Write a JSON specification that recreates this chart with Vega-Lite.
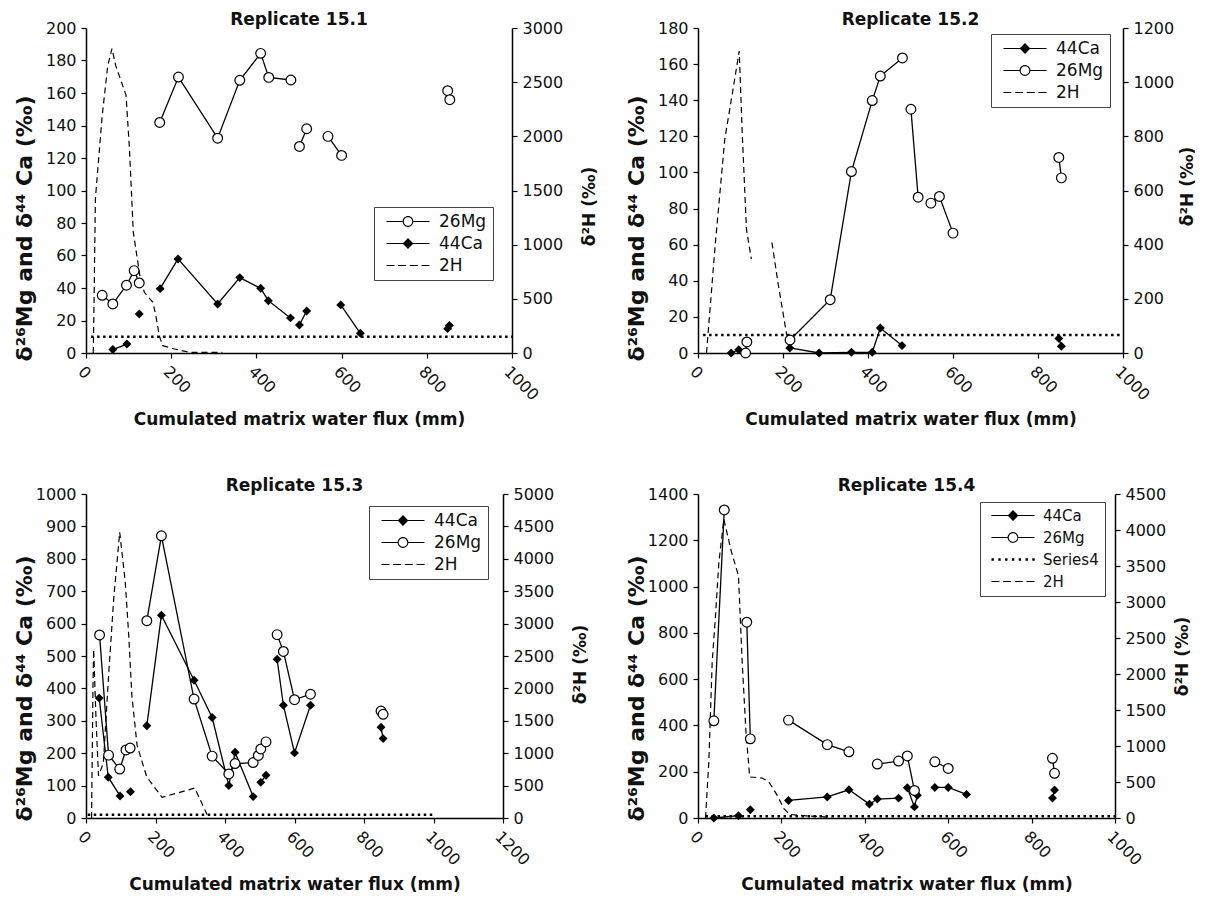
{
"$schema": "https://vega.github.io/schema/vega-lite/v6.json",
"padding": {"left": 13, "top": 11, "right": 0, "bottom": 0},
"background": "white",
"datasets": {
"p1": [
{"s":"26Mg","g":"m1","x":38,"y":35.5},{"s":"26Mg","g":"m1","x":63,"y":30.2},{"s":"26Mg","g":"m1","x":95,"y":41.7},{"s":"26Mg","g":"m1","x":113,"y":50.7},{"s":"26Mg","g":"m1","x":125,"y":43.1},
{"s":"26Mg","g":"m2","x":173,"y":141.9},{"s":"26Mg","g":"m2","x":217,"y":169.8},{"s":"26Mg","g":"m2","x":309,"y":132.2},{"s":"26Mg","g":"m2","x":361,"y":167.8},{"s":"26Mg","g":"m2","x":410,"y":184.4},{"s":"26Mg","g":"m2","x":429,"y":169.6},{"s":"26Mg","g":"m2","x":481,"y":168},
{"s":"26Mg","g":"m3","x":501,"y":127.1},{"s":"26Mg","g":"m3","x":518,"y":138},
{"s":"26Mg","g":"m4","x":568,"y":133.3},{"s":"26Mg","g":"m4","x":600,"y":121.6},
{"s":"26Mg","g":"m5","x":849,"y":161.4},{"s":"26Mg","g":"m5","x":854,"y":155.9},
{"s":"44Ca","g":"c1","x":63,"y":2.1},{"s":"44Ca","g":"c1","x":96,"y":5.5},
{"s":"44Ca","g":"c2","x":125,"y":24},
{"s":"44Ca","g":"c3","x":174,"y":39.6},{"s":"44Ca","g":"c3","x":216,"y":57.9},{"s":"44Ca","g":"c3","x":309,"y":30.2},{"s":"44Ca","g":"c3","x":361,"y":46.4},{"s":"44Ca","g":"c3","x":410,"y":39.8},{"s":"44Ca","g":"c3","x":428,"y":32.2},{"s":"44Ca","g":"c3","x":480,"y":21.6},
{"s":"44Ca","g":"c4","x":501,"y":17.2},{"s":"44Ca","g":"c4","x":518,"y":25.9},
{"s":"44Ca","g":"c5","x":598,"y":29.6},{"s":"44Ca","g":"c5","x":644,"y":12.1},
{"s":"44Ca","g":"c6","x":849,"y":15},{"s":"44Ca","g":"c6","x":853,"y":17},
{"s":"2H","g":"h1","x":17,"y":0},{"s":"2H","g":"h1","x":19,"y":500},{"s":"2H","g":"h1","x":22,"y":1420},{"s":"2H","g":"h1","x":38,"y":2190},{"s":"2H","g":"h1","x":51,"y":2650},{"s":"2H","g":"h1","x":61,"y":2810},{"s":"2H","g":"h1","x":70,"y":2650},{"s":"2H","g":"h1","x":86,"y":2470},{"s":"2H","g":"h1","x":94,"y":2380},{"s":"2H","g":"h1","x":102,"y":1885},{"s":"2H","g":"h1","x":106,"y":1546},{"s":"2H","g":"h1","x":111,"y":1115},{"s":"2H","g":"h1","x":117,"y":960},{"s":"2H","g":"h1","x":127,"y":700},{"s":"2H","g":"h1","x":137,"y":560},{"s":"2H","g":"h1","x":157,"y":468},{"s":"2H","g":"h1","x":164,"y":344},{"s":"2H","g":"h1","x":172,"y":160},{"s":"2H","g":"h1","x":180,"y":68},{"s":"2H","g":"h1","x":208,"y":37},{"s":"2H","g":"h1","x":245,"y":5},{"s":"2H","g":"h1","x":320,"y":5},
{"s":"S4","g":"s","x":12,"y":10},{"s":"S4","g":"s","x":1000,"y":10}
],
"p2": [
{"s":"26Mg","g":"m1","x":112,"y":0},{"s":"26Mg","g":"m1","x":115,"y":6.1},
{"s":"26Mg","g":"m2","x":216.5,"y":7.2},{"s":"26Mg","g":"m2","x":311,"y":29.5},{"s":"26Mg","g":"m2","x":361,"y":100.5},{"s":"26Mg","g":"m2","x":410,"y":139.8},{"s":"26Mg","g":"m2","x":429,"y":153.4},{"s":"26Mg","g":"m2","x":481,"y":163.4},
{"s":"26Mg","g":"m3","x":501,"y":135},{"s":"26Mg","g":"m3","x":518,"y":86.3},
{"s":"26Mg","g":"m4","x":548,"y":83},{"s":"26Mg","g":"m4","x":568,"y":86.7},{"s":"26Mg","g":"m4","x":600,"y":66.4},
{"s":"26Mg","g":"m5","x":849,"y":108.3},{"s":"26Mg","g":"m5","x":855,"y":97},
{"s":"44Ca","g":"c1","x":78,"y":0},{"s":"44Ca","g":"c1","x":96,"y":1.8},
{"s":"44Ca","g":"c2","x":216,"y":2.8},{"s":"44Ca","g":"c2","x":285,"y":0},{"s":"44Ca","g":"c2","x":361,"y":0.4},{"s":"44Ca","g":"c2","x":410,"y":0.4},{"s":"44Ca","g":"c2","x":429,"y":13.8},{"s":"44Ca","g":"c2","x":480,"y":4.1},
{"s":"44Ca","g":"c3","x":849,"y":8.1},{"s":"44Ca","g":"c3","x":855,"y":3.7},
{"s":"2H","g":"h1","x":20,"y":0},{"s":"2H","g":"h1","x":40,"y":390},{"s":"2H","g":"h1","x":63,"y":790},{"s":"2H","g":"h1","x":80,"y":950},{"s":"2H","g":"h1","x":97,"y":1115},{"s":"2H","g":"h1","x":104,"y":814},{"s":"2H","g":"h1","x":114,"y":457},{"s":"2H","g":"h1","x":125.5,"y":347},
{"s":"2H","g":"h2","x":174,"y":408},{"s":"2H","g":"h2","x":188,"y":261},{"s":"2H","g":"h2","x":209,"y":64},
{"s":"S4","g":"s","x":12,"y":10},{"s":"S4","g":"s","x":1000,"y":10}
],
"p3": [
{"s":"26Mg","g":"m1","x":39,"y":565},{"s":"26Mg","g":"m1","x":65,"y":194},{"s":"26Mg","g":"m1","x":97,"y":151},{"s":"26Mg","g":"m1","x":115,"y":210},{"s":"26Mg","g":"m1","x":127,"y":216},
{"s":"26Mg","g":"m2","x":175,"y":609},{"s":"26Mg","g":"m2","x":217,"y":871},{"s":"26Mg","g":"m2","x":311,"y":367},{"s":"26Mg","g":"m2","x":363,"y":191},{"s":"26Mg","g":"m2","x":411,"y":136},{"s":"26Mg","g":"m2","x":429,"y":168},{"s":"26Mg","g":"m2","x":481,"y":171},{"s":"26Mg","g":"m2","x":496,"y":193},{"s":"26Mg","g":"m2","x":503,"y":213},{"s":"26Mg","g":"m2","x":518,"y":235},
{"s":"26Mg","g":"m3","x":550,"y":566},{"s":"26Mg","g":"m3","x":568,"y":514},{"s":"26Mg","g":"m3","x":600,"y":365},{"s":"26Mg","g":"m3","x":646,"y":382},
{"s":"26Mg","g":"m4","x":849,"y":330},{"s":"26Mg","g":"m4","x":855,"y":320},
{"s":"44Ca","g":"c1","x":38,"y":370},{"s":"44Ca","g":"c1","x":64,"y":126},{"s":"44Ca","g":"c1","x":98,"y":68},
{"s":"44Ca","g":"c2","x":128,"y":81},
{"s":"44Ca","g":"c3","x":175,"y":285},{"s":"44Ca","g":"c3","x":217,"y":626},{"s":"44Ca","g":"c3","x":311,"y":425},{"s":"44Ca","g":"c3","x":363,"y":310},{"s":"44Ca","g":"c3","x":411,"y":100},{"s":"44Ca","g":"c3","x":429,"y":203},{"s":"44Ca","g":"c3","x":481,"y":66},
{"s":"44Ca","g":"c4","x":503,"y":110},{"s":"44Ca","g":"c4","x":518,"y":132},
{"s":"44Ca","g":"c5","x":550,"y":490},{"s":"44Ca","g":"c5","x":568,"y":348},{"s":"44Ca","g":"c5","x":600,"y":201},{"s":"44Ca","g":"c5","x":646,"y":348},
{"s":"44Ca","g":"c6","x":849,"y":280},{"s":"44Ca","g":"c6","x":855,"y":245},
{"s":"2H","g":"h1","x":16,"y":0},{"s":"2H","g":"h1","x":20,"y":2000},{"s":"2H","g":"h1","x":22,"y":2600},{"s":"2H","g":"h1","x":29,"y":1500},{"s":"2H","g":"h1","x":36,"y":650},{"s":"2H","g":"h1","x":50,"y":850},{"s":"2H","g":"h1","x":65,"y":2200},{"s":"2H","g":"h1","x":80,"y":3400},{"s":"2H","g":"h1","x":97,"y":4410},{"s":"2H","g":"h1","x":113,"y":3640},{"s":"2H","g":"h1","x":123,"y":2816},{"s":"2H","g":"h1","x":132,"y":1890},{"s":"2H","g":"h1","x":147,"y":1120},{"s":"2H","g":"h1","x":175,"y":632},{"s":"2H","g":"h1","x":219,"y":319},{"s":"2H","g":"h1","x":313,"y":462},{"s":"2H","g":"h1","x":353,"y":0},
{"s":"S4","g":"s","x":5,"y":10},{"s":"S4","g":"s","x":1000,"y":10}
],
"p4": [
{"s":"26Mg","g":"m1","x":38,"y":420},{"s":"26Mg","g":"m1","x":63,"y":1331},
{"s":"26Mg","g":"m2","x":117,"y":846},{"s":"26Mg","g":"m2","x":125.5,"y":342},
{"s":"26Mg","g":"m3","x":217,"y":423},{"s":"26Mg","g":"m3","x":310,"y":317},{"s":"26Mg","g":"m3","x":362,"y":286},
{"s":"26Mg","g":"m4","x":430,"y":233},{"s":"26Mg","g":"m4","x":481,"y":246},{"s":"26Mg","g":"m4","x":502,"y":268},{"s":"26Mg","g":"m4","x":519,"y":119},
{"s":"26Mg","g":"m5","x":568,"y":243},{"s":"26Mg","g":"m5","x":600,"y":214},
{"s":"26Mg","g":"m6","x":850,"y":258},{"s":"26Mg","g":"m6","x":855,"y":193},
{"s":"44Ca","g":"c1","x":38,"y":0},{"s":"44Ca","g":"c1","x":97,"y":10},
{"s":"44Ca","g":"c2","x":125.5,"y":36},
{"s":"44Ca","g":"c3","x":217,"y":76},{"s":"44Ca","g":"c3","x":310,"y":91},{"s":"44Ca","g":"c3","x":362,"y":122},{"s":"44Ca","g":"c3","x":411,"y":60},{"s":"44Ca","g":"c3","x":430,"y":82},{"s":"44Ca","g":"c3","x":481,"y":86},
{"s":"44Ca","g":"c4","x":502,"y":131},{"s":"44Ca","g":"c4","x":519,"y":48},{"s":"44Ca","g":"c4","x":526,"y":98},
{"s":"44Ca","g":"c5","x":568,"y":132},{"s":"44Ca","g":"c5","x":600,"y":132},{"s":"44Ca","g":"c5","x":644,"y":102},
{"s":"44Ca","g":"c6","x":850,"y":86},{"s":"44Ca","g":"c6","x":855,"y":121},
{"s":"2H","g":"h1","x":18,"y":0},{"s":"2H","g":"h1","x":26,"y":780},{"s":"2H","g":"h1","x":34,"y":2165},{"s":"2H","g":"h1","x":42,"y":2810},{"s":"2H","g":"h1","x":50,"y":3550},{"s":"2H","g":"h1","x":62,"y":4150},{"s":"2H","g":"h1","x":80,"y":3700},{"s":"2H","g":"h1","x":97,"y":3367},{"s":"2H","g":"h1","x":106,"y":2165},{"s":"2H","g":"h1","x":115,"y":1200},{"s":"2H","g":"h1","x":124,"y":570},{"s":"2H","g":"h1","x":154,"y":555},{"s":"2H","g":"h1","x":170,"y":500},{"s":"2H","g":"h1","x":190,"y":314},{"s":"2H","g":"h1","x":206,"y":130},{"s":"2H","g":"h1","x":220,"y":50},{"s":"2H","g":"h1","x":260,"y":30},{"s":"2H","g":"h1","x":320,"y":10},
{"s":"S4","g":"s","x":18,"y":8},{"s":"S4","g":"s","x":1000,"y":8}
]
},
"columns": 2,
"spacing": {"row": 141, "column": 186},
"bounds": "flush",
"concat": [
{
"width": 426, "height": 325,
"title": {"text": "Replicate 15.1", "offset": -9},
"data": {"name": "p1"},
"encoding": {"x": {"field": "x", "type": "quantitative", "scale": {"domain": [0, 1000], "nice": false}, "axis": {"values": [0, 200, 400, 600, 800, 1000], "format": "d", "labelAngle": 45, "labelFlush": false, "labelOverlap": false, "title": "Cumulated matrix water flux (mm)", "titleY": 66, "titleBaseline": "middle"}}},
"layer": [
{"transform": [{"filter": "datum.s==='26Mg'||datum.s==='44Ca'"}], "mark": {"type": "line", "color": "black", "strokeWidth": 1.3}, "encoding": {"y": {"field": "y", "type": "quantitative", "scale": {"domain": [0, 200], "nice": false}, "axis": {"orient": "left", "values": [0,20,40,60,80,100,120,140,160,180,200], "format": "d", "labelOverlap": false, "title": "δ²⁶Mg and δ⁴⁴ Ca (‰)", "titleFontSize": 22, "titleX": -62, "titleY": 200, "titleBaseline": "middle", "titleAlign": "center"}}, "detail": {"field": "g"}}},
{"transform": [{"filter": "datum.s==='2H'"}], "mark": {"type": "line", "color": "black", "strokeWidth": 1.2, "strokeDash": [6, 4]}, "encoding": {"y": {"field": "y", "type": "quantitative", "scale": {"domain": [0, 3000], "nice": false}, "axis": {"orient": "right", "values": [0,500,1000,1500,2000,2500,3000], "format": "d", "labelOverlap": false, "title": "δ²H (‰)", "titleFontSize": 17, "titleAngle": 270, "titleX": 77, "titleY": 178, "titleBaseline": "middle", "titleAlign": "center"}}, "detail": {"field": "g"}}},
{"transform": [{"filter": "datum.s==='S4'"}], "mark": {"type": "line", "color": "black", "strokeWidth": 2.5, "strokeDash": [2.5, 3.5]}, "encoding": {"y": {"field": "y", "type": "quantitative", "scale": {"domain": [0, 200], "nice": false}, "axis": null}}},
{"transform": [{"filter": "datum.s==='44Ca'"}], "mark": {"type": "point", "shape": "diamond", "filled": true, "color": "black", "opacity": 1, "size": 80}, "encoding": {"y": {"field": "y", "type": "quantitative", "scale": {"domain": [0, 200], "nice": false}, "axis": null}}},
{"transform": [{"filter": "datum.s==='26Mg'"}], "mark": {"type": "point", "shape": "circle", "filled": true, "fill": "white", "stroke": "black", "strokeWidth": 1.2, "opacity": 1, "size": 95}, "encoding": {"y": {"field": "y", "type": "quantitative", "scale": {"domain": [0, 200], "nice": false}, "axis": null}}},
{"transform": [{"filter": "false"}], "mark": {"type": "point", "filled": true, "color": "black", "opacity": 1, "size": 144, "strokeWidth": 0}, "encoding": {"shape": {"field": "s", "type": "nominal", "scale": {"domain": ["26Mg", "44Ca", "2H"], "range": ["M-0.333,-0.1H2.4V0.1H-0.333ZM4.1,-0.1H6.833V0.1H4.1ZM4.15,0A0.9,0.9,0,1,1,2.35,0A0.9,0.9,0,1,1,4.15,0ZM3.97,0A0.72,0.72,0,1,0,2.53,0A0.72,0.72,0,1,0,3.97,0Z", "M-0.333,-0.1H6.833V0.1H-0.333ZM3.25,-0.9L4.15,0L3.25,0.9L2.35,0Z", "M-0.333,-0.1H1V0.1H-0.333ZM1.61,-0.1H2.94V0.1H1.61ZM3.55,-0.1H4.88V0.1H3.55ZM5.5,-0.1H6.833V0.1H5.5Z"]}, "legend": {"orient": "none", "legendX": 288, "legendY": 179, "title": null, "labelFont": "DejaVu Sans", "labelFontSize": 17, "labelColor": "#111", "symbolSize": 144, "symbolFillColor": "black", "symbolStrokeWidth": 0, "symbolOpacity": 1, "labelOffset": 42, "rowPadding": 4, "padding": 6, "strokeColor": "#444", "fillColor": "white"}}}}
],
"resolve": {"scale": {"y": "independent"}}
},
{
"width": 425, "height": 325,
"title": {"text": "Replicate 15.2", "offset": -9},
"data": {"name": "p2"},
"encoding": {"x": {"field": "x", "type": "quantitative", "scale": {"domain": [0, 1000], "nice": false}, "axis": {"values": [0, 200, 400, 600, 800, 1000], "format": "d", "labelAngle": 45, "labelFlush": false, "labelOverlap": false, "title": "Cumulated matrix water flux (mm)", "titleY": 66, "titleBaseline": "middle"}}},
"layer": [
{"transform": [{"filter": "datum.s==='26Mg'||datum.s==='44Ca'"}], "mark": {"type": "line", "color": "black", "strokeWidth": 1.3}, "encoding": {"y": {"field": "y", "type": "quantitative", "scale": {"domain": [0, 180], "nice": false}, "axis": {"orient": "left", "values": [0,20,40,60,80,100,120,140,160,180], "format": "d", "labelOverlap": false, "title": "δ²⁶Mg and δ⁴⁴ Ca (‰)", "titleFontSize": 22, "titleX": -62, "titleY": 200, "titleBaseline": "middle", "titleAlign": "center"}}, "detail": {"field": "g"}}},
{"transform": [{"filter": "datum.s==='2H'"}], "mark": {"type": "line", "color": "black", "strokeWidth": 1.2, "strokeDash": [6, 4]}, "encoding": {"y": {"field": "y", "type": "quantitative", "scale": {"domain": [0, 1200], "nice": false}, "axis": {"orient": "right", "values": [0,200,400,600,800,1000,1200], "format": "d", "labelOverlap": false, "title": "δ²H (‰)", "titleFontSize": 17, "titleAngle": 270, "titleX": 64, "titleY": 158, "titleBaseline": "middle", "titleAlign": "center"}}, "detail": {"field": "g"}}},
{"transform": [{"filter": "datum.s==='S4'"}], "mark": {"type": "line", "color": "black", "strokeWidth": 2.5, "strokeDash": [2.5, 3.5]}, "encoding": {"y": {"field": "y", "type": "quantitative", "scale": {"domain": [0, 180], "nice": false}, "axis": null}}},
{"transform": [{"filter": "datum.s==='44Ca'"}], "mark": {"type": "point", "shape": "diamond", "filled": true, "color": "black", "opacity": 1, "size": 80}, "encoding": {"y": {"field": "y", "type": "quantitative", "scale": {"domain": [0, 180], "nice": false}, "axis": null}}},
{"transform": [{"filter": "datum.s==='26Mg'"}], "mark": {"type": "point", "shape": "circle", "filled": true, "fill": "white", "stroke": "black", "strokeWidth": 1.2, "opacity": 1, "size": 95}, "encoding": {"y": {"field": "y", "type": "quantitative", "scale": {"domain": [0, 180], "nice": false}, "axis": null}}},
{"transform": [{"filter": "false"}], "mark": {"type": "point", "filled": true, "color": "black", "opacity": 1, "size": 144, "strokeWidth": 0}, "encoding": {"shape": {"field": "s", "type": "nominal", "scale": {"domain": ["44Ca", "26Mg", "2H"], "range": ["M-0.333,-0.1H6.833V0.1H-0.333ZM3.25,-0.9L4.15,0L3.25,0.9L2.35,0Z", "M-0.333,-0.1H2.4V0.1H-0.333ZM4.1,-0.1H6.833V0.1H4.1ZM4.15,0A0.9,0.9,0,1,1,2.35,0A0.9,0.9,0,1,1,4.15,0ZM3.97,0A0.72,0.72,0,1,0,2.53,0A0.72,0.72,0,1,0,3.97,0Z", "M-0.333,-0.1H1V0.1H-0.333ZM1.61,-0.1H2.94V0.1H1.61ZM3.55,-0.1H4.88V0.1H3.55ZM5.5,-0.1H6.833V0.1H5.5Z"]}, "legend": {"orient": "none", "legendX": 293, "legendY": 6, "title": null, "labelFont": "DejaVu Sans", "labelFontSize": 17, "labelColor": "#111", "symbolSize": 144, "symbolFillColor": "black", "symbolStrokeWidth": 0, "symbolOpacity": 1, "labelOffset": 42, "rowPadding": 4, "padding": 6, "strokeColor": "#444", "fillColor": "white"}}}}
],
"resolve": {"scale": {"y": "independent"}}
},
{
"width": 417, "height": 324,
"title": {"text": "Replicate 15.3", "offset": -9},
"data": {"name": "p3"},
"encoding": {"x": {"field": "x", "type": "quantitative", "scale": {"domain": [0, 1200], "nice": false}, "axis": {"values": [0, 200, 400, 600, 800, 1000, 1200], "format": "d", "labelAngle": 45, "labelFlush": false, "labelOverlap": false, "title": "Cumulated matrix water flux (mm)", "titleY": 66, "titleBaseline": "middle"}}},
"layer": [
{"transform": [{"filter": "datum.s==='26Mg'||datum.s==='44Ca'"}], "mark": {"type": "line", "color": "black", "strokeWidth": 1.3}, "encoding": {"y": {"field": "y", "type": "quantitative", "scale": {"domain": [0, 1000], "nice": false}, "axis": {"orient": "left", "values": [0,100,200,300,400,500,600,700,800,900,1000], "format": "d", "labelOverlap": false, "title": "δ²⁶Mg and δ⁴⁴ Ca (‰)", "titleFontSize": 22, "titleX": -62, "titleY": 194, "titleBaseline": "middle", "titleAlign": "center"}}, "detail": {"field": "g"}}},
{"transform": [{"filter": "datum.s==='2H'"}], "mark": {"type": "line", "color": "black", "strokeWidth": 1.2, "strokeDash": [6, 4]}, "encoding": {"y": {"field": "y", "type": "quantitative", "scale": {"domain": [0, 5000], "nice": false}, "axis": {"orient": "right", "values": [0,500,1000,1500,2000,2500,3000,3500,4000,4500,5000], "format": "d", "labelOverlap": false, "title": "δ²H (‰)", "titleFontSize": 17, "titleAngle": 270, "titleX": 77, "titleY": 170, "titleBaseline": "middle", "titleAlign": "center"}}, "detail": {"field": "g"}}},
{"transform": [{"filter": "datum.s==='S4'"}], "mark": {"type": "line", "color": "black", "strokeWidth": 2.5, "strokeDash": [2.5, 3.5]}, "encoding": {"y": {"field": "y", "type": "quantitative", "scale": {"domain": [0, 1000], "nice": false}, "axis": null}}},
{"transform": [{"filter": "datum.s==='44Ca'"}], "mark": {"type": "point", "shape": "diamond", "filled": true, "color": "black", "opacity": 1, "size": 80}, "encoding": {"y": {"field": "y", "type": "quantitative", "scale": {"domain": [0, 1000], "nice": false}, "axis": null}}},
{"transform": [{"filter": "datum.s==='26Mg'"}], "mark": {"type": "point", "shape": "circle", "filled": true, "fill": "white", "stroke": "black", "strokeWidth": 1.2, "opacity": 1, "size": 95}, "encoding": {"y": {"field": "y", "type": "quantitative", "scale": {"domain": [0, 1000], "nice": false}, "axis": null}}},
{"transform": [{"filter": "false"}], "mark": {"type": "point", "filled": true, "color": "black", "opacity": 1, "size": 144, "strokeWidth": 0}, "encoding": {"shape": {"field": "s", "type": "nominal", "scale": {"domain": ["44Ca", "26Mg", "2H"], "range": ["M-0.333,-0.1H6.833V0.1H-0.333ZM3.25,-0.9L4.15,0L3.25,0.9L2.35,0Z", "M-0.333,-0.1H2.4V0.1H-0.333ZM4.1,-0.1H6.833V0.1H4.1ZM4.15,0A0.9,0.9,0,1,1,2.35,0A0.9,0.9,0,1,1,4.15,0ZM3.97,0A0.72,0.72,0,1,0,2.53,0A0.72,0.72,0,1,0,3.97,0Z", "M-0.333,-0.1H1V0.1H-0.333ZM1.61,-0.1H2.94V0.1H1.61ZM3.55,-0.1H4.88V0.1H3.55ZM5.5,-0.1H6.833V0.1H5.5Z"]}, "legend": {"orient": "none", "legendX": 283, "legendY": 12, "title": null, "labelFont": "DejaVu Sans", "labelFontSize": 17, "labelColor": "#111", "symbolSize": 144, "symbolFillColor": "black", "symbolStrokeWidth": 0, "symbolOpacity": 1, "labelOffset": 42, "rowPadding": 4, "padding": 6, "strokeColor": "#444", "fillColor": "white"}}}}
],
"resolve": {"scale": {"y": "independent"}}
},
{
"width": 417, "height": 324,
"title": {"text": "Replicate 15.4", "offset": -9},
"data": {"name": "p4"},
"encoding": {"x": {"field": "x", "type": "quantitative", "scale": {"domain": [0, 1000], "nice": false}, "axis": {"values": [0, 200, 400, 600, 800, 1000], "format": "d", "labelAngle": 45, "labelFlush": false, "labelOverlap": false, "title": "Cumulated matrix water flux (mm)", "titleY": 66, "titleBaseline": "middle"}}},
"layer": [
{"transform": [{"filter": "datum.s==='26Mg'||datum.s==='44Ca'"}], "mark": {"type": "line", "color": "black", "strokeWidth": 1.3}, "encoding": {"y": {"field": "y", "type": "quantitative", "scale": {"domain": [0, 1400], "nice": false}, "axis": {"orient": "left", "values": [0,200,400,600,800,1000,1200,1400], "format": "d", "labelOverlap": false, "title": "δ²⁶Mg and δ⁴⁴ Ca (‰)", "titleFontSize": 22, "titleX": -62, "titleY": 194, "titleBaseline": "middle", "titleAlign": "center"}}, "detail": {"field": "g"}}},
{"transform": [{"filter": "datum.s==='2H'"}], "mark": {"type": "line", "color": "black", "strokeWidth": 1.2, "strokeDash": [6, 4]}, "encoding": {"y": {"field": "y", "type": "quantitative", "scale": {"domain": [0, 4500], "nice": false}, "axis": {"orient": "right", "values": [0,500,1000,1500,2000,2500,3000,3500,4000,4500], "format": "d", "labelOverlap": false, "title": "δ²H (‰)", "titleFontSize": 17, "titleAngle": 270, "titleX": 67, "titleY": 162, "titleBaseline": "middle", "titleAlign": "center"}}, "detail": {"field": "g"}}},
{"transform": [{"filter": "datum.s==='S4'"}], "mark": {"type": "line", "color": "black", "strokeWidth": 2.5, "strokeDash": [2.5, 3.5]}, "encoding": {"y": {"field": "y", "type": "quantitative", "scale": {"domain": [0, 1400], "nice": false}, "axis": null}}},
{"transform": [{"filter": "datum.s==='44Ca'"}], "mark": {"type": "point", "shape": "diamond", "filled": true, "color": "black", "opacity": 1, "size": 80}, "encoding": {"y": {"field": "y", "type": "quantitative", "scale": {"domain": [0, 1400], "nice": false}, "axis": null}}},
{"transform": [{"filter": "datum.s==='26Mg'"}], "mark": {"type": "point", "shape": "circle", "filled": true, "fill": "white", "stroke": "black", "strokeWidth": 1.2, "opacity": 1, "size": 95}, "encoding": {"y": {"field": "y", "type": "quantitative", "scale": {"domain": [0, 1400], "nice": false}, "axis": null}}},
{"transform": [{"filter": "false"}], "mark": {"type": "point", "filled": true, "color": "black", "opacity": 1, "size": 144, "strokeWidth": 0}, "encoding": {"shape": {"field": "s", "type": "nominal", "scale": {"domain": ["44Ca", "26Mg", "Series4", "2H"], "range": ["M-0.333,-0.1H6.833V0.1H-0.333ZM3.25,-0.9L4.15,0L3.25,0.9L2.35,0Z", "M-0.333,-0.1H2.4V0.1H-0.333ZM4.1,-0.1H6.833V0.1H4.1ZM4.15,0A0.9,0.9,0,1,1,2.35,0A0.9,0.9,0,1,1,4.15,0ZM3.97,0A0.72,0.72,0,1,0,2.53,0A0.72,0.72,0,1,0,3.97,0Z", "M-0.333,-0.2h0.4v0.4h-0.4ZM0.8,-0.2h0.4v0.4h-0.4ZM1.933,-0.2h0.4v0.4h-0.4ZM3.066,-0.2h0.4v0.4h-0.4ZM4.199,-0.2h0.4v0.4h-0.4ZM5.332,-0.2h0.4v0.4h-0.4ZM6.465,-0.2h0.4v0.4h-0.4Z", "M-0.333,-0.1H1V0.1H-0.333ZM1.61,-0.1H2.94V0.1H1.61ZM3.55,-0.1H4.88V0.1H3.55ZM5.5,-0.1H6.833V0.1H5.5Z"]}, "legend": {"orient": "none", "legendX": 282, "legendY": 8, "title": null, "labelFont": "DejaVu Sans", "labelFontSize": 15, "labelColor": "#111", "symbolSize": 144, "symbolFillColor": "black", "symbolStrokeWidth": 0, "symbolOpacity": 1, "labelOffset": 42, "rowPadding": 6, "padding": 6, "strokeColor": "#444", "fillColor": "white"}}}}
],
"resolve": {"scale": {"y": "independent"}}
}
],
"resolve": {"scale": {"shape": "independent"}, "legend": {"shape": "independent"}},
"config": {
"font": "DejaVu Sans",
"view": {"stroke": null},
"axis": {"grid": false, "domainColor": "#000", "domainWidth": 1.5, "tickColor": "#000", "tickWidth": 1.2, "tickSize": 5, "labelFont": "DejaVu Sans", "labelFontSize": 16, "labelColor": "#111", "labelPadding": 5, "titleFont": "DejaVu Sans", "titleFontSize": 17, "titleFontWeight": "bold", "titleColor": "#111"},
"title": {"font": "DejaVu Sans", "fontSize": 17, "fontWeight": "bold", "color": "#111"}
}
}
